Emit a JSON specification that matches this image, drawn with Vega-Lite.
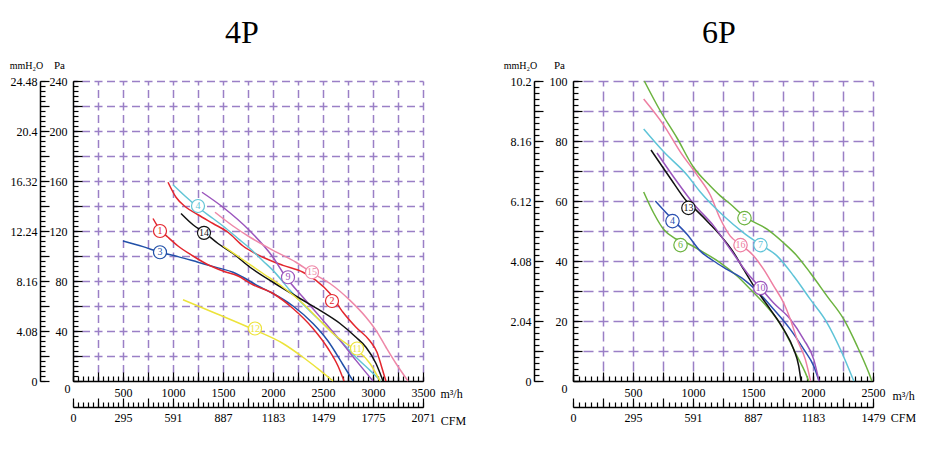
{
"$schema": "https://vega.github.io/schema/vega-lite/v6.json",
"background": "white",
"padding": {"left": 9, "top": 17, "right": 0, "bottom": 0},
"spacing": 37,
"config": {
  "view": {"stroke": null},
  "font": "Liberation Serif",
  "axis": {"labelFont": "Liberation Serif", "labelFontSize": 12, "labelColor": "black", "titleFont": "Liberation Serif", "titleFontSize": 11, "titleFontWeight": "normal", "titleColor": "black", "grid": false, "domain": false, "ticks": false, "labels": false, "domainColor": "black", "domainWidth": 1.5, "tickColor": "black", "tickWidth": 1.2, "labelOverlap": false, "labelFlush": false, "labelBound": false}
},
"datasets": {
  "c4": [
    {"c":"4P-3","q":500,"p":112},{"c":"4P-3","q":700,"p":107.5},{"c":"4P-3","q":870,"p":103},{"c":"4P-3","q":1050,"p":99.5},{"c":"4P-3","q":1250,"p":95},{"c":"4P-3","q":1450,"p":90.5},{"c":"4P-3","q":1600,"p":87},{"c":"4P-3","q":1700,"p":83},{"c":"4P-3","q":1850,"p":76},{"c":"4P-3","q":2000,"p":70},{"c":"4P-3","q":2200,"p":60},{"c":"4P-3","q":2400,"p":46},{"c":"4P-3","q":2550,"p":32},{"c":"4P-3","q":2700,"p":13},{"c":"4P-3","q":2800,"p":0},
    {"c":"4P-1","q":800,"p":130},{"c":"4P-1","q":870,"p":121},{"c":"4P-1","q":950,"p":115},{"c":"4P-1","q":1050,"p":108},{"c":"4P-1","q":1200,"p":100},{"c":"4P-1","q":1350,"p":93},{"c":"4P-1","q":1500,"p":88},{"c":"4P-1","q":1650,"p":84},{"c":"4P-1","q":1800,"p":77},{"c":"4P-1","q":2000,"p":70},{"c":"4P-1","q":2200,"p":58},{"c":"4P-1","q":2400,"p":42},{"c":"4P-1","q":2550,"p":26},{"c":"4P-1","q":2650,"p":12},{"c":"4P-1","q":2710,"p":0},
    {"c":"4P-2","q":950,"p":159},{"c":"4P-2","q":1030,"p":147},{"c":"4P-2","q":1130,"p":139},{"c":"4P-2","q":1250,"p":133},{"c":"4P-2","q":1400,"p":126},{"c":"4P-2","q":1550,"p":119},{"c":"4P-2","q":1700,"p":108},{"c":"4P-2","q":1900,"p":99},{"c":"4P-2","q":2100,"p":92.5},{"c":"4P-2","q":2300,"p":87},{"c":"4P-2","q":2430,"p":80.5},{"c":"4P-2","q":2570,"p":70},{"c":"4P-2","q":2700,"p":55},{"c":"4P-2","q":2830,"p":43},{"c":"4P-2","q":2970,"p":32},{"c":"4P-2","q":3040,"p":23},{"c":"4P-2","q":3080,"p":13},{"c":"4P-2","q":3110,"p":5},{"c":"4P-2","q":3130,"p":0},
    {"c":"4P-4","q":1000,"p":157},{"c":"4P-4","q":1120,"p":148},{"c":"4P-4","q":1250,"p":139},{"c":"4P-4","q":1400,"p":130},{"c":"4P-4","q":1500,"p":124},{"c":"4P-4","q":1650,"p":114},{"c":"4P-4","q":1770,"p":106},{"c":"4P-4","q":1900,"p":96},{"c":"4P-4","q":2000,"p":88.5},{"c":"4P-4","q":2170,"p":72.5},{"c":"4P-4","q":2330,"p":59},{"c":"4P-4","q":2500,"p":46},{"c":"4P-4","q":2670,"p":32.5},{"c":"4P-4","q":2830,"p":19},{"c":"4P-4","q":2970,"p":8.5},{"c":"4P-4","q":3080,"p":0},
    {"c":"4P-9","q":1290,"p":151},{"c":"4P-9","q":1500,"p":139},{"c":"4P-9","q":1770,"p":120},{"c":"4P-9","q":2000,"p":99},{"c":"4P-9","q":2130,"p":83},{"c":"4P-9","q":2300,"p":67},{"c":"4P-9","q":2500,"p":48.5},{"c":"4P-9","q":2670,"p":32.5},{"c":"4P-9","q":2830,"p":16.5},{"c":"4P-9","q":3000,"p":0},
    {"c":"4P-15","q":1420,"p":135},{"c":"4P-15","q":1600,"p":124},{"c":"4P-15","q":1770,"p":115},{"c":"4P-15","q":2000,"p":104.5},{"c":"4P-15","q":2230,"p":95},{"c":"4P-15","q":2380,"p":87},{"c":"4P-15","q":2570,"p":78},{"c":"4P-15","q":2770,"p":64.5},{"c":"4P-15","q":2930,"p":51},{"c":"4P-15","q":3030,"p":40.5},{"c":"4P-15","q":3130,"p":27},{"c":"4P-15","q":3230,"p":14},{"c":"4P-15","q":3350,"p":0},
    {"c":"4P-14","q":1080,"p":134},{"c":"4P-14","q":1200,"p":125},{"c":"4P-14","q":1310,"p":119},{"c":"4P-14","q":1450,"p":110},{"c":"4P-14","q":1600,"p":102},{"c":"4P-14","q":1770,"p":91},{"c":"4P-14","q":2000,"p":79},{"c":"4P-14","q":2270,"p":66},{"c":"4P-14","q":2470,"p":56.5},{"c":"4P-14","q":2670,"p":46},{"c":"4P-14","q":2830,"p":35},{"c":"4P-14","q":2930,"p":27},{"c":"4P-14","q":3030,"p":14},{"c":"4P-14","q":3100,"p":0},
    {"c":"4P-11","q":1500,"p":108},{"c":"4P-11","q":1700,"p":97},{"c":"4P-11","q":1900,"p":86},{"c":"4P-11","q":2100,"p":75},{"c":"4P-11","q":2300,"p":62},{"c":"4P-11","q":2450,"p":50},{"c":"4P-11","q":2600,"p":38},{"c":"4P-11","q":2750,"p":29},{"c":"4P-11","q":2850,"p":24},{"c":"4P-11","q":2970,"p":14},{"c":"4P-11","q":3070,"p":0},
    {"c":"4P-12","q":1100,"p":65},{"c":"4P-12","q":1430,"p":54},{"c":"4P-12","q":1810,"p":41},{"c":"4P-12","q":2100,"p":30},{"c":"4P-12","q":2300,"p":19},{"c":"4P-12","q":2470,"p":8.5},{"c":"4P-12","q":2600,"p":0}
  ],
  "l4": [
    {"c":"4P-1","n":"1","q":870,"p":120},{"c":"4P-3","n":"3","q":870,"p":103},{"c":"4P-4","n":"4","q":1250,"p":140},{"c":"4P-14","n":"14","q":1310,"p":118.5},{"c":"4P-9","n":"9","q":2150,"p":83},{"c":"4P-15","n":"15","q":2390,"p":87},{"c":"4P-2","n":"2","q":2590,"p":64},{"c":"4P-11","n":"11","q":2840,"p":26},{"c":"4P-12","n":"12","q":1820,"p":42}
  ],
  "c6": [
    {"c":"6P-5","q":594,"p":100},{"c":"6P-5","q":728,"p":90},{"c":"6P-5","q":867,"p":81},{"c":"6P-5","q":1000,"p":71.5},{"c":"6P-5","q":1144,"p":65},{"c":"6P-5","q":1228,"p":61.7},{"c":"6P-5","q":1311,"p":59},{"c":"6P-5","q":1422,"p":55},{"c":"6P-5","q":1617,"p":50.6},{"c":"6P-5","q":1756,"p":46},{"c":"6P-5","q":1867,"p":41.7},{"c":"6P-5","q":1978,"p":36},{"c":"6P-5","q":2117,"p":28.3},{"c":"6P-5","q":2256,"p":20.6},{"c":"6P-5","q":2367,"p":11.7},{"c":"6P-5","q":2464,"p":2.8},{"c":"6P-5","q":2490,"p":0},
    {"c":"6P-6","q":589,"p":63},{"c":"6P-6","q":672,"p":56},{"c":"6P-6","q":756,"p":50.5},{"c":"6P-6","q":850,"p":47.5},{"c":"6P-6","q":950,"p":46},{"c":"6P-6","q":1061,"p":43.5},{"c":"6P-6","q":1228,"p":39.4},{"c":"6P-6","q":1367,"p":35},{"c":"6P-6","q":1478,"p":30.6},{"c":"6P-6","q":1589,"p":26},{"c":"6P-6","q":1700,"p":20.6},{"c":"6P-6","q":1783,"p":15},{"c":"6P-6","q":1867,"p":8.3},{"c":"6P-6","q":1936,"p":2.8},{"c":"6P-6","q":1964,"p":0},
    {"c":"6P-4","q":686,"p":60},{"c":"6P-4","q":825,"p":54},{"c":"6P-4","q":950,"p":48.9},{"c":"6P-4","q":1061,"p":43.3},{"c":"6P-4","q":1172,"p":40},{"c":"6P-4","q":1283,"p":37.2},{"c":"6P-4","q":1422,"p":33.9},{"c":"6P-4","q":1533,"p":30},{"c":"6P-4","q":1672,"p":23.9},{"c":"6P-4","q":1811,"p":17.2},{"c":"6P-4","q":1922,"p":10.6},{"c":"6P-4","q":2006,"p":5},{"c":"6P-4","q":2050,"p":0},
    {"c":"6P-13","q":650,"p":77},{"c":"6P-13","q":811,"p":67.6},{"c":"6P-13","q":950,"p":59.8},{"c":"6P-13","q":1033,"p":56.7},{"c":"6P-13","q":1144,"p":52.2},{"c":"6P-13","q":1256,"p":47.2},{"c":"6P-13","q":1339,"p":42.8},{"c":"6P-13","q":1422,"p":37.2},{"c":"6P-13","q":1506,"p":31.7},{"c":"6P-13","q":1644,"p":23.9},{"c":"6P-13","q":1756,"p":17.2},{"c":"6P-13","q":1839,"p":10.6},{"c":"6P-13","q":1881,"p":5},{"c":"6P-13","q":1900,"p":0},
    {"c":"6P-10","q":700,"p":76},{"c":"6P-10","q":867,"p":66.4},{"c":"6P-10","q":1006,"p":59},{"c":"6P-10","q":1172,"p":51.7},{"c":"6P-10","q":1311,"p":43.9},{"c":"6P-10","q":1450,"p":36.1},{"c":"6P-10","q":1561,"p":31.1},{"c":"6P-10","q":1672,"p":26},{"c":"6P-10","q":1811,"p":20.6},{"c":"6P-10","q":1922,"p":13.9},{"c":"6P-10","q":2006,"p":7.2},{"c":"6P-10","q":2050,"p":0},
    {"c":"6P-16","q":589,"p":94},{"c":"6P-16","q":756,"p":85.3},{"c":"6P-16","q":894,"p":76.4},{"c":"6P-16","q":1033,"p":68.7},{"c":"6P-16","q":1144,"p":62},{"c":"6P-16","q":1228,"p":54},{"c":"6P-16","q":1311,"p":48.3},{"c":"6P-16","q":1394,"p":45.5},{"c":"6P-16","q":1506,"p":41.7},{"c":"6P-16","q":1589,"p":37.2},{"c":"6P-16","q":1672,"p":31.7},{"c":"6P-16","q":1756,"p":26},{"c":"6P-16","q":1811,"p":20.6},{"c":"6P-16","q":1867,"p":13.9},{"c":"6P-16","q":1936,"p":7.2},{"c":"6P-16","q":1980,"p":0},
    {"c":"6P-7","q":589,"p":84},{"c":"6P-7","q":756,"p":76.4},{"c":"6P-7","q":950,"p":68.7},{"c":"6P-7","q":1061,"p":63},{"c":"6P-7","q":1256,"p":55},{"c":"6P-7","q":1422,"p":49.4},{"c":"6P-7","q":1561,"p":45.5},{"c":"6P-7","q":1700,"p":41.7},{"c":"6P-7","q":1839,"p":35},{"c":"6P-7","q":1978,"p":27.2},{"c":"6P-7","q":2117,"p":19.4},{"c":"6P-7","q":2228,"p":10.6},{"c":"6P-7","q":2340,"p":0}
  ],
  "l6": [
    {"c":"6P-4","n":"4","q":829,"p":53.3},{"c":"6P-13","n":"13","q":962,"p":57.7},{"c":"6P-6","n":"6","q":896,"p":45.3},{"c":"6P-5","n":"5","q":1429,"p":54.3},{"c":"6P-16","n":"16","q":1396,"p":45.3},{"c":"6P-7","n":"7","q":1562,"p":45.3},{"c":"6P-10","n":"10","q":1562,"p":31}
  ]
},
"hconcat": [
  {
    "width": 350, "height": 300,
    "title": {"text": "4P", "fontSize": 32, "font": "Liberation Serif", "fontWeight": "normal", "anchor": "middle", "frame": "group", "offset": 9, "dx": -6},
    "resolve": {"axis": {"x": "independent", "y": "independent"}},
    "layer": [
      {"data": {"name": "c4"}, "mark": {"type": "line", "interpolate": "monotone", "strokeWidth": 1.5},
       "encoding": {
         "x": {"field": "q", "type": "quantitative", "scale": {"domain": [0, 3500], "nice": false}, "axis": {"orient": "bottom", "values": [0,500,1000,1500,2000,2500,3000,3500], "format": "d", "labels": true, "domain": true, "labelPadding": {"condition": {"test": "datum.value === 0", "value": 2}, "value": 6}, "labelAlign": {"condition": {"test": "datum.value === 0", "value": "right"}, "value": "center"}, "labelOffset": {"condition": {"test": "datum.value === 0", "value": -3}, "value": 0}, "title": "m³/h", "titleAngle": 0, "titleX": 378, "titleY": 12, "titleAlign": "center", "titleBaseline": "middle", "titleFontSize": 12}},
         "y": {"field": "p", "type": "quantitative", "scale": {"domain": [0, 240], "nice": false}, "axis": {"orient": "left", "values": [40,80,120,160,200,240], "labels": true, "domain": true, "labelPadding": 6, "title": "Pa", "titleAngle": 0, "titleX": -14, "titleY": -16, "titleAlign": "center", "titleBaseline": "middle"}},
         "color": {"field": "c", "type": "nominal", "legend": null, "scale": {"domain": ["4P-1","4P-2","4P-3","4P-4","4P-9","4P-11","4P-12","4P-14","4P-15","6P-4","6P-5","6P-6","6P-7","6P-10","6P-13","6P-16"], "range": ["#e3262d","#e3262d","#2150a8","#62c5d6","#9b55bd","#ece33a","#ece33a","#111111","#ee88a8","#2a4fb0","#6cb33f","#6cb33f","#5fc4d8","#9b55bd","#111111","#ee7fa2"]}}
       }},
      {"data": {"name": "l4"}, "mark": {"type": "point", "shape": "circle", "filled": true, "fill": "white", "opacity": 1, "size": 170, "strokeWidth": 1.2},
       "encoding": {
         "x": {"field": "q", "type": "quantitative", "scale": {"domain": [0, 3500], "nice": false}, "axis": {"orient": "bottom", "values": [0,50,100,150,200,250,300,350,400,450,500,550,600,650,700,750,800,850,900,950,1000,1050,1100,1150,1200,1250,1300,1350,1400,1450,1500,1550,1600,1650,1700,1750,1800,1850,1900,1950,2000,2050,2100,2150,2200,2250,2300,2350,2400,2450,2500,2550,2600,2650,2700,2750,2800,2850,2900,2950,3000,3050,3100,3150,3200,3250,3300,3350,3400,3450,3500], "ticks": true, "tickSize": -5, "title": null}},
         "y": {"field": "p", "type": "quantitative", "scale": {"domain": [0, 240], "nice": false}, "axis": {"orient": "left", "values": [0,4,8,12,16,20,24,28,32,36,40,44,48,52,56,60,64,68,72,76,80,84,88,92,96,100,104,108,112,116,120,124,128,132,136,140,144,148,152,156,160,164,168,172,176,180,184,188,192,196,200,204,208,212,216,220,224,228,232,236,240], "ticks": true, "tickSize": -5, "title": null}},
         "stroke": {"field": "c", "type": "nominal", "legend": null, "scale": {"domain": ["4P-1","4P-2","4P-3","4P-4","4P-9","4P-11","4P-12","4P-14","4P-15","6P-4","6P-5","6P-6","6P-7","6P-10","6P-13","6P-16"], "range": ["#e3262d","#e3262d","#2150a8","#62c5d6","#9b55bd","#ece33a","#ece33a","#111111","#ee88a8","#2a4fb0","#6cb33f","#6cb33f","#5fc4d8","#9b55bd","#111111","#ee7fa2"]}}
       }},
      {"data": {"name": "l4"}, "mark": {"type": "text", "fontSize": 10, "font": "Liberation Serif"},
       "encoding": {
         "x": {"field": "q", "type": "quantitative", "scale": {"domain": [0, 3500], "nice": false}, "axis": {"orient": "bottom", "values": [0,250,500,750,1000,1250,1500,1750,2000,2250,2500,2750,3000,3250,3500], "ticks": true, "tickSize": -9, "title": null}},
         "y": {"field": "p", "type": "quantitative", "scale": {"domain": [0, 240], "nice": false}, "axis": {"orient": "left", "values": [0,20,40,60,80,100,120,140,160,180,200,220,240], "ticks": true, "tickSize": -9, "title": null}},
         "text": {"field": "n"},
         "color": {"field": "c", "type": "nominal", "legend": null, "scale": {"domain": ["4P-1","4P-2","4P-3","4P-4","4P-9","4P-11","4P-12","4P-14","4P-15","6P-4","6P-5","6P-6","6P-7","6P-10","6P-13","6P-16"], "range": ["#e3262d","#e3262d","#2150a8","#62c5d6","#9b55bd","#ece33a","#ece33a","#111111","#ee88a8","#2a4fb0","#6cb33f","#6cb33f","#5fc4d8","#9b55bd","#111111","#ee7fa2"]}}
       }},
      {"data": {"name": "c4"}, "mark": {"type": "point", "opacity": 0},
       "encoding": {
         "x": {"field": "q", "type": "quantitative", "scale": {"domain": [0, 3500], "nice": false}, "axis": {"orient": "bottom", "values": [250,500,750,1000,1250,1500,1750,2000,2250,2500,2750,3000,3250,3500], "grid": true, "gridColor": "#9a7fc6", "gridWidth": 1.5, "gridDash": [8, 4.5], "gridDashOffset": 4, "title": null}},
         "y": {"field": "p", "type": "quantitative", "scale": {"domain": [0, 240], "nice": false}, "axis": {"orient": "left", "values": [20,40,60,80,100,120,140,160,180,200,220,240], "grid": true, "gridColor": "#9a7fc6", "gridWidth": 1.5, "gridDash": [8, 4.5], "gridDashOffset": 4, "title": null}}
       }},
      {"data": {"name": "c4"}, "mark": {"type": "point", "opacity": 0},
       "encoding": {
         "x": {"field": "q", "type": "quantitative", "scale": {"domain": [0, 3500], "nice": false}, "axis": {"orient": "bottom", "offset": 26, "values": [0,500,1000,1500,2000,2500,3000,3500], "labels": true, "domain": true, "labelPadding": 5, "labelExpr": "['0','295','591','887','1183','1479','1775','2071'][round(datum.value/500)]", "title": "CFM", "titleAngle": 0, "titleX": 380, "titleY": 13, "titleAlign": "center", "titleBaseline": "middle", "titleFontSize": 12}},
         "y": {"field": "p", "type": "quantitative", "scale": {"domain": [0, 240], "nice": false}, "axis": {"orient": "left", "offset": 33, "values": [0,40,80,120,160,200,240], "labels": true, "domain": true, "labelPadding": 3, "labelExpr": "format(datum.value*0.102, '.2~f')", "title": "mmH₂O", "titleAngle": 0, "titleX": -14, "titleY": -16, "titleAlign": "center", "titleBaseline": "middle", "titleFontSize": 10}}
       }},
      {"data": {"name": "c4"}, "mark": {"type": "point", "opacity": 0},
       "encoding": {
         "x": {"field": "q", "type": "quantitative", "scale": {"domain": [0, 3500], "nice": false}, "axis": {"orient": "bottom", "offset": 26, "values": [0,50,100,150,200,250,300,350,400,450,500,550,600,650,700,750,800,850,900,950,1000,1050,1100,1150,1200,1250,1300,1350,1400,1450,1500,1550,1600,1650,1700,1750,1800,1850,1900,1950,2000,2050,2100,2150,2200,2250,2300,2350,2400,2450,2500,2550,2600,2650,2700,2750,2800,2850,2900,2950,3000,3050,3100,3150,3200,3250,3300,3350,3400,3450,3500], "ticks": true, "tickSize": -5, "title": null}},
         "y": {"field": "p", "type": "quantitative", "scale": {"domain": [0, 240], "nice": false}, "axis": {"orient": "left", "offset": 33, "values": [0,4,8,12,16,20,24,28,32,36,40,44,48,52,56,60,64,68,72,76,80,84,88,92,96,100,104,108,112,116,120,124,128,132,136,140,144,148,152,156,160,164,168,172,176,180,184,188,192,196,200,204,208,212,216,220,224,228,232,236,240], "ticks": true, "tickSize": -5, "title": null}}
       }},
      {"data": {"name": "c4"}, "mark": {"type": "point", "opacity": 0},
       "encoding": {
         "x": {"field": "q", "type": "quantitative", "scale": {"domain": [0, 3500], "nice": false}, "axis": {"orient": "bottom", "offset": 26, "values": [0,250,500,750,1000,1250,1500,1750,2000,2250,2500,2750,3000,3250,3500], "ticks": true, "tickSize": -9, "title": null}},
         "y": {"field": "p", "type": "quantitative", "scale": {"domain": [0, 240], "nice": false}, "axis": {"orient": "left", "offset": 33, "values": [0,20,40,60,80,100,120,140,160,180,200,220,240], "ticks": true, "tickSize": -9, "title": null}}
       }}
    ]
  },
  {
    "width": 300, "height": 300,
    "title": {"text": "6P", "fontSize": 32, "font": "Liberation Serif", "fontWeight": "normal", "anchor": "middle", "frame": "group", "offset": 9, "dx": -4},
    "resolve": {"axis": {"x": "independent", "y": "independent"}},
    "layer": [
      {"data": {"name": "c6"}, "mark": {"type": "line", "interpolate": "monotone", "strokeWidth": 1.5},
       "encoding": {
         "x": {"field": "q", "type": "quantitative", "scale": {"domain": [0, 2500], "nice": false}, "axis": {"orient": "bottom", "values": [0,500,1000,1500,2000,2500], "format": "d", "labels": true, "domain": true, "labelPadding": {"condition": {"test": "datum.value === 0", "value": 2}, "value": 6}, "labelAlign": {"condition": {"test": "datum.value === 0", "value": "right"}, "value": "center"}, "labelOffset": {"condition": {"test": "datum.value === 0", "value": -6}, "value": 0}, "title": "m³/h", "titleAngle": 0, "titleX": 330, "titleY": 14, "titleAlign": "center", "titleBaseline": "middle", "titleFontSize": 12}},
         "y": {"field": "p", "type": "quantitative", "scale": {"domain": [0, 100], "nice": false}, "axis": {"orient": "left", "values": [20,40,60,80,100], "labels": true, "domain": true, "labelPadding": 6, "title": "Pa", "titleAngle": 0, "titleX": -14, "titleY": -16, "titleAlign": "center", "titleBaseline": "middle"}},
         "color": {"field": "c", "type": "nominal", "legend": null, "scale": {"domain": ["4P-1","4P-2","4P-3","4P-4","4P-9","4P-11","4P-12","4P-14","4P-15","6P-4","6P-5","6P-6","6P-7","6P-10","6P-13","6P-16"], "range": ["#e3262d","#e3262d","#2150a8","#62c5d6","#9b55bd","#ece33a","#ece33a","#111111","#ee88a8","#2a4fb0","#6cb33f","#6cb33f","#5fc4d8","#9b55bd","#111111","#ee7fa2"]}}
       }},
      {"data": {"name": "l6"}, "mark": {"type": "point", "shape": "circle", "filled": true, "fill": "white", "opacity": 1, "size": 180, "strokeWidth": 1.2},
       "encoding": {
         "x": {"field": "q", "type": "quantitative", "scale": {"domain": [0, 2500], "nice": false}, "axis": {"orient": "bottom", "values": [0,50,100,150,200,250,300,350,400,450,500,550,600,650,700,750,800,850,900,950,1000,1050,1100,1150,1200,1250,1300,1350,1400,1450,1500,1550,1600,1650,1700,1750,1800,1850,1900,1950,2000,2050,2100,2150,2200,2250,2300,2350,2400,2450,2500], "ticks": true, "tickSize": -5, "title": null}},
         "y": {"field": "p", "type": "quantitative", "scale": {"domain": [0, 100], "nice": false}, "axis": {"orient": "left", "values": [0,2,4,6,8,10,12,14,16,18,20,22,24,26,28,30,32,34,36,38,40,42,44,46,48,50,52,54,56,58,60,62,64,66,68,70,72,74,76,78,80,82,84,86,88,90,92,94,96,98,100], "ticks": true, "tickSize": -5, "title": null}},
         "stroke": {"field": "c", "type": "nominal", "legend": null, "scale": {"domain": ["4P-1","4P-2","4P-3","4P-4","4P-9","4P-11","4P-12","4P-14","4P-15","6P-4","6P-5","6P-6","6P-7","6P-10","6P-13","6P-16"], "range": ["#e3262d","#e3262d","#2150a8","#62c5d6","#9b55bd","#ece33a","#ece33a","#111111","#ee88a8","#2a4fb0","#6cb33f","#6cb33f","#5fc4d8","#9b55bd","#111111","#ee7fa2"]}}
       }},
      {"data": {"name": "l6"}, "mark": {"type": "text", "fontSize": 10, "font": "Liberation Serif"},
       "encoding": {
         "x": {"field": "q", "type": "quantitative", "scale": {"domain": [0, 2500], "nice": false}, "axis": {"orient": "bottom", "values": [0,250,500,750,1000,1250,1500,1750,2000,2250,2500], "ticks": true, "tickSize": -9, "title": null}},
         "y": {"field": "p", "type": "quantitative", "scale": {"domain": [0, 100], "nice": false}, "axis": {"orient": "left", "values": [0,10,20,30,40,50,60,70,80,90,100], "ticks": true, "tickSize": -9, "title": null}},
         "text": {"field": "n"},
         "color": {"field": "c", "type": "nominal", "legend": null, "scale": {"domain": ["4P-1","4P-2","4P-3","4P-4","4P-9","4P-11","4P-12","4P-14","4P-15","6P-4","6P-5","6P-6","6P-7","6P-10","6P-13","6P-16"], "range": ["#e3262d","#e3262d","#2150a8","#62c5d6","#9b55bd","#ece33a","#ece33a","#111111","#ee88a8","#2a4fb0","#6cb33f","#6cb33f","#5fc4d8","#9b55bd","#111111","#ee7fa2"]}}
       }},
      {"data": {"name": "c6"}, "mark": {"type": "point", "opacity": 0},
       "encoding": {
         "x": {"field": "q", "type": "quantitative", "scale": {"domain": [0, 2500], "nice": false}, "axis": {"orient": "bottom", "values": [250,500,750,1000,1250,1500,1750,2000,2250,2500], "grid": true, "gridColor": "#9a7fc6", "gridWidth": 1.5, "gridDash": [10, 5], "gridDashOffset": 5, "title": null}},
         "y": {"field": "p", "type": "quantitative", "scale": {"domain": [0, 100], "nice": false}, "axis": {"orient": "left", "values": [10,20,30,40,50,60,70,80,90,100], "grid": true, "gridColor": "#9a7fc6", "gridWidth": 1.5, "gridDash": [10, 5], "gridDashOffset": 5, "title": null}}
       }},
      {"data": {"name": "c6"}, "mark": {"type": "point", "opacity": 0},
       "encoding": {
         "x": {"field": "q", "type": "quantitative", "scale": {"domain": [0, 2500], "nice": false}, "axis": {"orient": "bottom", "offset": 26, "values": [0,500,1000,1500,2000,2500], "labels": true, "domain": true, "labelPadding": 5, "labelExpr": "['0','295','591','887','1183','1479'][round(datum.value/500)]", "title": "CFM", "titleAngle": 0, "titleX": 330, "titleY": 10, "titleAlign": "center", "titleBaseline": "middle", "titleFontSize": 12}},
         "y": {"field": "p", "type": "quantitative", "scale": {"domain": [0, 100], "nice": false}, "axis": {"orient": "left", "offset": 39, "values": [0,20,40,60,80,100], "labels": true, "domain": true, "labelPadding": 3, "labelExpr": "format(datum.value*0.102, '.2~f')", "title": "mmH₂O", "titleAngle": 0, "titleX": -14, "titleY": -16, "titleAlign": "center", "titleBaseline": "middle", "titleFontSize": 10}}
       }},
      {"data": {"name": "c6"}, "mark": {"type": "point", "opacity": 0},
       "encoding": {
         "x": {"field": "q", "type": "quantitative", "scale": {"domain": [0, 2500], "nice": false}, "axis": {"orient": "bottom", "offset": 26, "values": [0,50,100,150,200,250,300,350,400,450,500,550,600,650,700,750,800,850,900,950,1000,1050,1100,1150,1200,1250,1300,1350,1400,1450,1500,1550,1600,1650,1700,1750,1800,1850,1900,1950,2000,2050,2100,2150,2200,2250,2300,2350,2400,2450,2500], "ticks": true, "tickSize": -5, "title": null}},
         "y": {"field": "p", "type": "quantitative", "scale": {"domain": [0, 100], "nice": false}, "axis": {"orient": "left", "offset": 39, "values": [0,2,4,6,8,10,12,14,16,18,20,22,24,26,28,30,32,34,36,38,40,42,44,46,48,50,52,54,56,58,60,62,64,66,68,70,72,74,76,78,80,82,84,86,88,90,92,94,96,98,100], "ticks": true, "tickSize": -5, "title": null}}
       }},
      {"data": {"name": "c6"}, "mark": {"type": "point", "opacity": 0},
       "encoding": {
         "x": {"field": "q", "type": "quantitative", "scale": {"domain": [0, 2500], "nice": false}, "axis": {"orient": "bottom", "offset": 26, "values": [0,250,500,750,1000,1250,1500,1750,2000,2250,2500], "ticks": true, "tickSize": -9, "title": null}},
         "y": {"field": "p", "type": "quantitative", "scale": {"domain": [0, 100], "nice": false}, "axis": {"orient": "left", "offset": 39, "values": [0,10,20,30,40,50,60,70,80,90,100], "ticks": true, "tickSize": -9, "title": null}}
       }}
    ]
  }
]
}
